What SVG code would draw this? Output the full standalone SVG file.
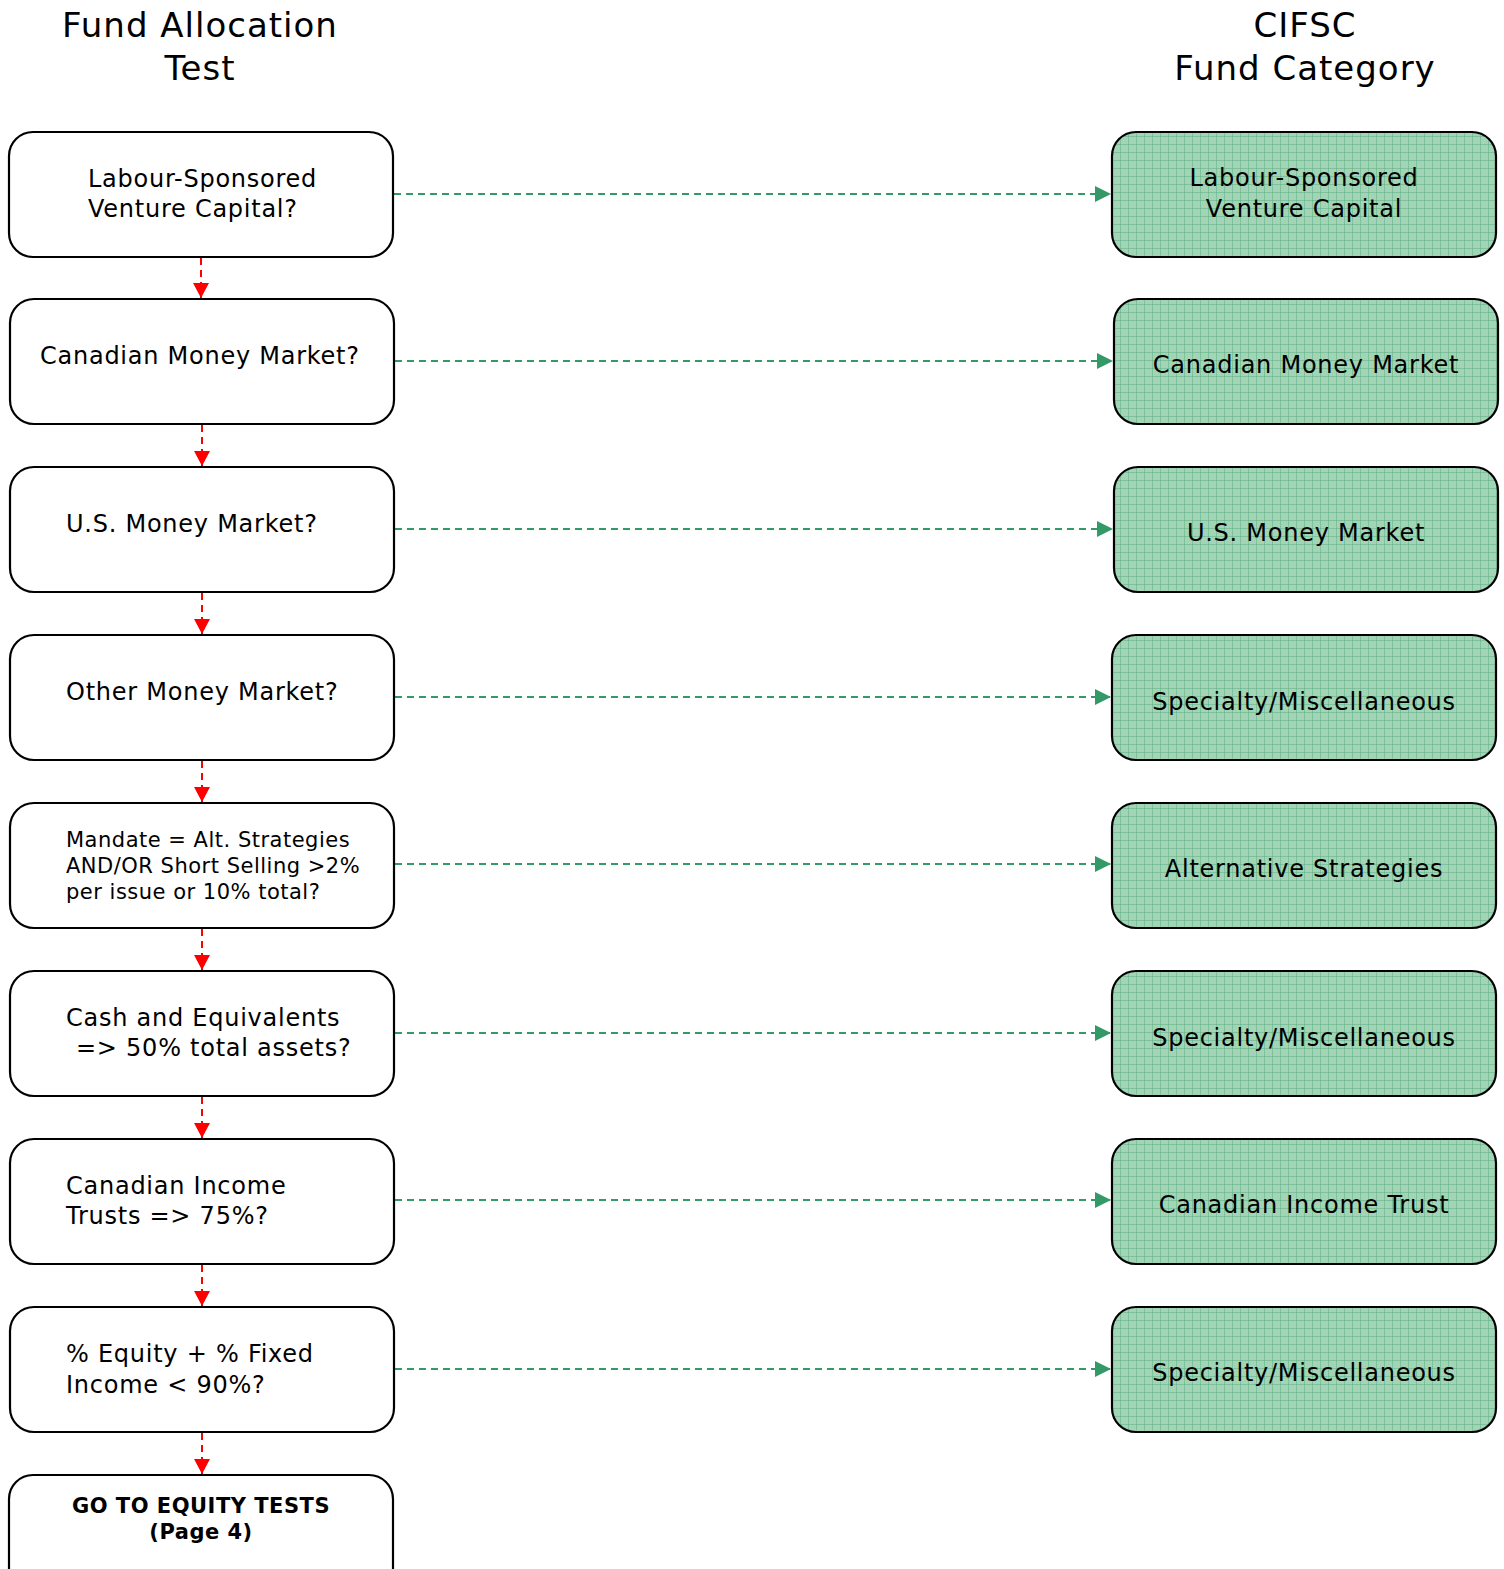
<svg xmlns="http://www.w3.org/2000/svg" width="1504" height="1569" viewBox="0 0 1504 1569">
<style>
.t{font-family:"DejaVu Sans","Verdana",sans-serif;font-size:24px;fill:#000;letter-spacing:0.75px}
.s{font-size:21px;letter-spacing:0.5px}
.b{font-weight:bold;font-size:21px;letter-spacing:0.5px}
.h{font-family:"DejaVu Sans","Verdana",sans-serif;font-size:34px;fill:#000;text-anchor:middle;letter-spacing:1px}
.q{fill:#fff;stroke:#000;stroke-width:2.2}
.g{fill:url(#grid);stroke:#000;stroke-width:2.2}
.gc{stroke:#339966;stroke-width:2;stroke-dasharray:7 5;fill:none}
.rc{stroke:#ff0000;stroke-width:2;stroke-dasharray:7 5;fill:none}
.m{text-anchor:middle}
</style>
<defs>
<pattern id="grid" width="8" height="8" patternUnits="userSpaceOnUse">
<rect width="8" height="8" fill="#a3d4b6"/>
<path d="M0 0H8M0 0V8" stroke="#5aae84" stroke-width="1"/>
</pattern>
<marker id="ga" markerWidth="18" markerHeight="18" refX="16" refY="9" orient="auto" markerUnits="userSpaceOnUse">
<path d="M0 1L16 9L0 17Z" fill="#339966"/>
</marker>
<marker id="ra" markerWidth="18" markerHeight="18" refX="15" refY="9" orient="auto" markerUnits="userSpaceOnUse">
<path d="M0 1L15 9L0 17Z" fill="#ff0000"/>
</marker>
</defs>
<text class="h" x="200" y="37">Fund Allocation</text>
<text class="h" x="200" y="80">Test</text>
<text class="h" x="1305" y="37">CIFSC</text>
<text class="h" x="1305" y="80">Fund Category</text>

<g id="connectors">
<path class="gc" d="M394 194H1111" marker-end="url(#ga)"/>
<path class="gc" d="M395 361H1113" marker-end="url(#ga)"/>
<path class="gc" d="M395 529H1113" marker-end="url(#ga)"/>
<path class="gc" d="M395 697H1111" marker-end="url(#ga)"/>
<path class="gc" d="M395 864H1111" marker-end="url(#ga)"/>
<path class="gc" d="M395 1033H1111" marker-end="url(#ga)"/>
<path class="gc" d="M395 1200H1111" marker-end="url(#ga)"/>
<path class="gc" d="M395 1369H1111" marker-end="url(#ga)"/>
<path class="rc" d="M201 258V298" marker-end="url(#ra)"/>
<path class="rc" d="M202 425V466" marker-end="url(#ra)"/>
<path class="rc" d="M202 593V634" marker-end="url(#ra)"/>
<path class="rc" d="M202 761V802" marker-end="url(#ra)"/>
<path class="rc" d="M202 929V970" marker-end="url(#ra)"/>
<path class="rc" d="M202 1097V1138" marker-end="url(#ra)"/>
<path class="rc" d="M202 1265V1306" marker-end="url(#ra)"/>
<path class="rc" d="M202 1433V1474" marker-end="url(#ra)"/>
</g>

<g id="q1"><rect class="q" x="9" y="132" width="384" height="125" rx="24"/>
<text class="t" x="88" y="187">Labour-Sponsored</text><text class="t" x="88" y="217">Venture Capital?</text></g>
<g id="q2"><rect class="q" x="10" y="299" width="384" height="125" rx="24"/>
<text class="t" x="40" y="364">Canadian Money Market?</text></g>
<g id="q3"><rect class="q" x="10" y="467" width="384" height="125" rx="24"/>
<text class="t" x="66" y="532">U.S. Money Market?</text></g>
<g id="q4"><rect class="q" x="10" y="635" width="384" height="125" rx="24"/>
<text class="t" x="66" y="700">Other Money Market?</text></g>
<g id="q5"><rect class="q" x="10" y="803" width="384" height="125" rx="24"/>
<text class="t s" x="66" y="847">Mandate = Alt. Strategies</text><text class="t s" x="66" y="873">AND/OR Short Selling &gt;2%</text><text class="t s" x="66" y="899">per issue or 10% total?</text></g>
<g id="q6"><rect class="q" x="10" y="971" width="384" height="125" rx="24"/>
<text class="t" x="66" y="1026">Cash and Equivalents</text><text class="t" x="76" y="1056">=&gt; 50% total assets?</text></g>
<g id="q7"><rect class="q" x="10" y="1139" width="384" height="125" rx="24"/>
<text class="t" x="66" y="1194">Canadian Income</text><text class="t" x="66" y="1224">Trusts =&gt; 75%?</text></g>
<g id="q8"><rect class="q" x="10" y="1307" width="384" height="125" rx="24"/>
<text class="t" x="66" y="1362">% Equity + % Fixed</text><text class="t" x="66" y="1393">Income &lt; 90%?</text></g>
<g id="q9"><rect class="q" x="9" y="1475" width="384" height="125" rx="24"/>
<text class="t b m" x="201" y="1513">GO TO EQUITY TESTS</text><text class="t b m" x="201" y="1539">(Page 4)</text></g>

<g id="c1"><rect class="g" x="1112" y="132" width="384" height="125" rx="24"/>
<text class="t m" x="1304" y="186">Labour-Sponsored</text><text class="t m" x="1304" y="217">Venture Capital</text></g>
<g id="c2"><rect class="g" x="1114" y="299" width="384" height="125" rx="24"/>
<text class="t m" x="1306" y="373">Canadian Money Market</text></g>
<g id="c3"><rect class="g" x="1114" y="467" width="384" height="125" rx="24"/>
<text class="t m" x="1306" y="541">U.S. Money Market</text></g>
<g id="c4"><rect class="g" x="1112" y="635" width="384" height="125" rx="24"/>
<text class="t m" x="1304" y="710">Specialty/Miscellaneous</text></g>
<g id="c5"><rect class="g" x="1112" y="803" width="384" height="125" rx="24"/>
<text class="t m" x="1304" y="877">Alternative Strategies</text></g>
<g id="c6"><rect class="g" x="1112" y="971" width="384" height="125" rx="24"/>
<text class="t m" x="1304" y="1046">Specialty/Miscellaneous</text></g>
<g id="c7"><rect class="g" x="1112" y="1139" width="384" height="125" rx="24"/>
<text class="t m" x="1304" y="1213">Canadian Income Trust</text></g>
<g id="c8"><rect class="g" x="1112" y="1307" width="384" height="125" rx="24"/>
<text class="t m" x="1304" y="1381">Specialty/Miscellaneous</text></g>
</svg>
